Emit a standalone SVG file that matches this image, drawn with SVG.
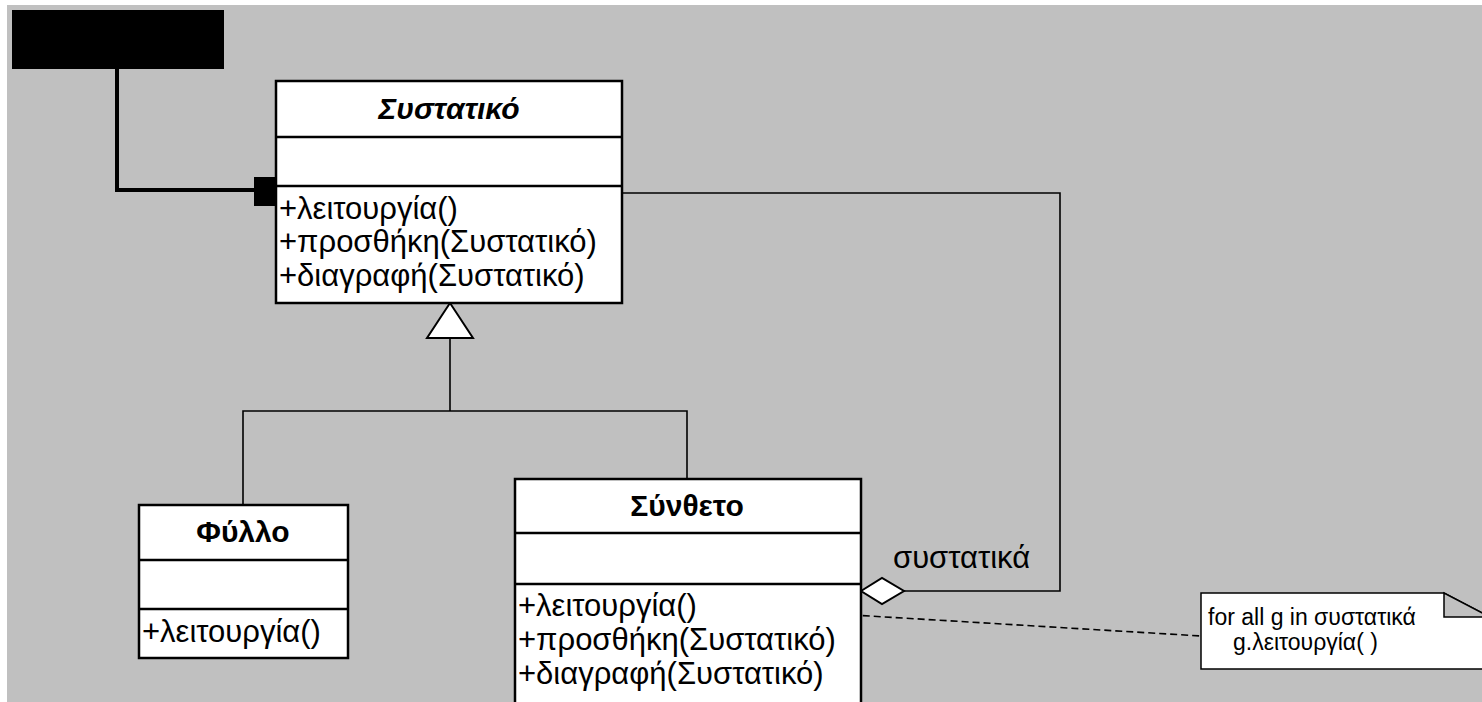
<svg xmlns="http://www.w3.org/2000/svg" width="1482" height="702" viewBox="0 0 1482 702">
<style>
.box{fill:#ffffff;stroke:#000000;stroke-width:2.5}
.div{stroke:#000000;stroke-width:2.5}
.ln{fill:none;stroke:#000000;stroke-width:1.6}
.t{font-family:"Liberation Sans",Arial,sans-serif;font-size:31px;fill:#000000}
.title{font-family:"Liberation Sans",Arial,sans-serif;font-size:30px;font-weight:bold;fill:#000000;text-anchor:middle}
.note{font-family:"Liberation Sans",Arial,sans-serif;font-size:23px;fill:#000000}
</style>
<rect x="0" y="0" width="1482" height="702" fill="#ffffff"/>
<rect x="7" y="5" width="1475" height="697" fill="#c0c0c0"/>

<g id="connectors">
  <polyline points="117,69 117,190 256,190" fill="none" stroke="#000" stroke-width="4"/>
  <rect x="254" y="177" width="29" height="29" fill="#000"/>
  <polyline class="ln" points="450,338 450,411"/>
  <polyline class="ln" points="243,505 243,411 687,411 687,479"/>
  <polygon points="450,303 427,338 473,338" fill="#fff" stroke="#000" stroke-width="2"/>
  <polyline class="ln" points="622,193 1060,193 1060,591 904,591"/>
  <polygon points="861,591 882,578 904,591 882,604" fill="#fff" stroke="#000" stroke-width="2"/>
  <text class="t" x="893" y="568">συστατικά</text>
  <line x1="720" y1="607" x2="1201" y2="636" stroke="#000" stroke-width="1.6" stroke-dasharray="7,4"/>
</g>

<g id="client">
  <rect x="12" y="10" width="212" height="59" fill="#000"/>
</g>

<g id="systatiko">
  <rect class="box" x="276" y="81" width="346" height="222"/>
  <line class="div" x1="276" y1="137" x2="622" y2="137"/>
  <line class="div" x1="276" y1="186" x2="622" y2="186"/>
  <text class="title" x="449" y="119" font-style="italic">Συστατικό</text>
  <text class="t" x="279" y="219">+λειτουργία()</text>
  <text class="t" x="279" y="252">+προσθήκη(Συστατικό)</text>
  <text class="t" x="279" y="286">+διαγραφή(Συστατικό)</text>
</g>

<g id="fyllo">
  <rect class="box" x="139" y="505" width="209" height="153"/>
  <line class="div" x1="139" y1="560" x2="348" y2="560"/>
  <line class="div" x1="139" y1="609" x2="348" y2="609"/>
  <text class="title" x="243" y="542">Φύλλο</text>
  <text class="t" x="142" y="642">+λειτουργία()</text>
</g>

<g id="syntheto">
  <rect class="box" x="515" y="479" width="346" height="230"/>
  <line class="div" x1="515" y1="533" x2="861" y2="533"/>
  <line class="div" x1="515" y1="584" x2="861" y2="584"/>
  <text class="title" x="687" y="516">Σύνθετο</text>
  <text class="t" x="518" y="616">+λειτουργία()</text>
  <text class="t" x="518" y="650">+προσθήκη(Συστατικό)</text>
  <text class="t" x="518" y="684">+διαγραφή(Συστατικό)</text>
</g>

<g id="note">
  <polygon points="1201,593 1444,593 1490,617 1490,669 1201,669" fill="#fff" stroke="#000" stroke-width="1.5"/>
  <polygon points="1444,593 1444,617 1490,617" fill="#c0c0c0" stroke="#000" stroke-width="1.5"/>
  <text class="note" x="1208" y="625">for all g in συστατικά</text>
  <text class="note" x="1233" y="650">g.λειτουργία( )</text>
</g>
</svg>
